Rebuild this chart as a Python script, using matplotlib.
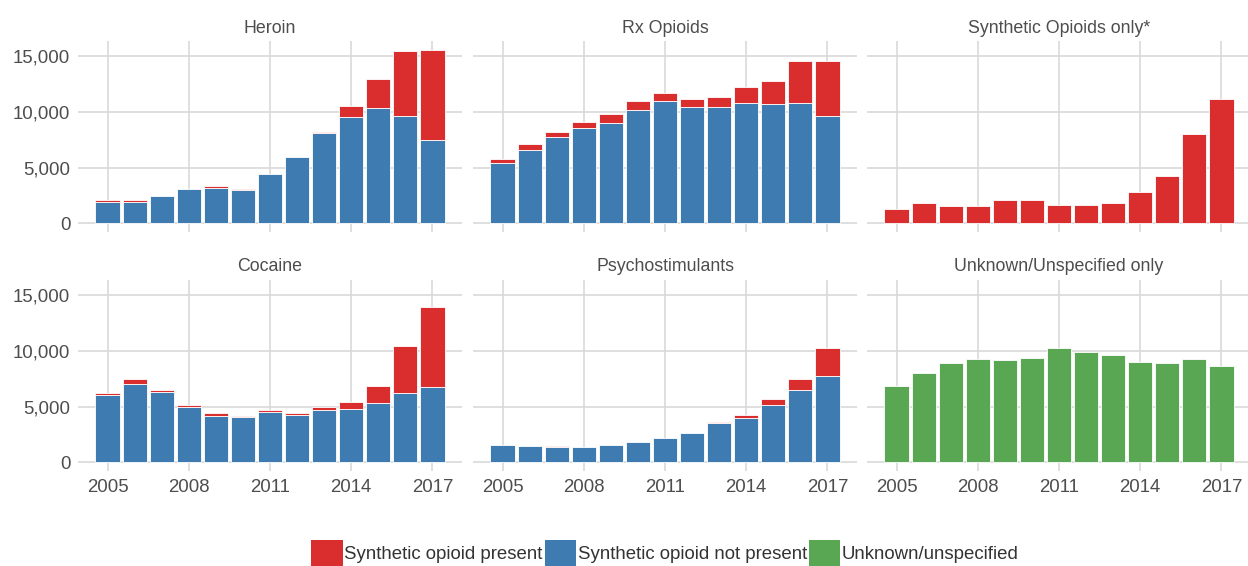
import matplotlib
matplotlib.use("Agg")
import matplotlib.pyplot as plt
from matplotlib.patches import Patch
import numpy as np

plt.rcParams['font.family'] = ['Liberation Sans', 'DejaVu Sans']

years = list(range(2005, 2018))
x_ticks = [2005, 2008, 2011, 2014, 2017]
y_ticks = [0, 5000, 10000, 15000]
y_ticklabels = ["0", "5,000", "10,000", "15,000"]

titles = ["Heroin", "Rx Opioids", "Synthetic Opioids only*",
          "Cocaine", "Psychostimulants", "Unknown/Unspecified only"]

heroin_not_present = [1920, 1920, 2460, 3080, 3200, 2960, 4400, 5960, 8080, 9520, 10300, 9640, 7490]
heroin_present = [160, 160, 0, 0, 190, 130, 0, 0, 130, 1020, 2660, 5780, 8080]

rx_not_present = [5420, 6560, 7700, 8590, 8980, 10150, 10930, 10420, 10420, 10810, 10690, 10810, 9640]
rx_present = [360, 510, 500, 540, 780, 780, 780, 750, 900, 1410, 2060, 3710, 4880]

synthetic_only = [1290, 1830, 1560, 1560, 2070, 2070, 1680, 1680, 1830, 2810, 4280, 7990, 11170]

cocaine_not_present = [6070, 6990, 6340, 4930, 4150, 4030, 4540, 4270, 4660, 4780, 5290, 6190, 6720]
cocaine_present = [130, 510, 120, 240, 240, 130, 130, 130, 270, 660, 1550, 4270, 7170]

psycho_not_present = [1580, 1460, 1340, 1340, 1580, 1850, 2210, 2600, 3530, 4000, 5170, 6450, 7740]
psycho_present = [0, 0, 130, 0, 0, 0, 0, 0, 130, 270, 510, 1050, 2540]

unknown_only = [6840, 7980, 8870, 9260, 9140, 9380, 10280, 9920, 9650, 9020, 8870, 9260, 8640]

legend_labels = ["Synthetic opioid present", "Synthetic opioid not present", "Unknown/unspecified"]

RED = "#DA2E2E"
BLUE = "#3D7BB0"
GREEN = "#59A752"
GRID = "#D9D9D9"
TXT = "#4D4D4D"

W, H = 1248, 566
fig = plt.figure(figsize=(W / 100, H / 100), dpi=100)


def ax_at(l, t, r, b):
    return fig.add_axes([l / W, 1 - b / H, (r - l) / W, (b - t) / H])


cols = [(78, 462), (473, 857), (867, 1251)]
rows = [(41, 232), (280, 471)]
title_base = [33, 271]

panels = [
    [(heroin_not_present, None, BLUE), (heroin_present, heroin_not_present, RED)],
    [(rx_not_present, None, BLUE), (rx_present, rx_not_present, RED)],
    [(synthetic_only, None, RED)],
    [(cocaine_not_present, None, BLUE), (cocaine_present, cocaine_not_present, RED)],
    [(psycho_not_present, None, BLUE), (psycho_present, psycho_not_present, RED)],
    [(unknown_only, None, GREEN)],
]

totals = []
for layers in panels:
    tot = np.zeros(len(years))
    for vals, _, _ in layers:
        tot += np.array(vals)
    totals.append(tot.max())
ymax = max(totals)
ylo, yhi = -0.05 * ymax, ymax * 1.05
xr = (years[-1] + 0.45) - (years[0] - 0.45)
xlo, xhi = years[0] - 0.45 - 0.05 * xr, years[-1] + 0.45 + 0.05 * xr

for i, layers in enumerate(panels):
    r, c = divmod(i, 3)
    l, rr = cols[c]
    t, b = rows[r]
    ax = ax_at(l, t, rr, b)
    for vals, bottoms, color in layers:
        v = np.array(vals, dtype=float)
        bt = np.zeros(len(v)) if bottoms is None else np.array(bottoms, dtype=float)
        mask = v > 0
        ax.bar(np.array(years)[mask], v[mask], bottom=bt[mask], width=0.9,
               color=color, edgecolor="white", linewidth=0.6, zorder=2)
    ax.set_xlim(xlo, xhi)
    ax.set_ylim(ylo, yhi)
    ax.set_xticks(x_ticks)
    ax.set_yticks(y_ticks)
    ax.grid(True, color=GRID, linewidth=1.2, zorder=0)
    ax.set_axisbelow(True)
    for s in ax.spines.values():
        s.set_visible(False)
    ax.tick_params(length=0, labelsize=13.4, colors=TXT)
    ax.tick_params(axis='y', pad=5.5)
    ax.tick_params(axis='x', pad=6)
    if c == 0:
        ax.set_yticklabels(y_ticklabels)
    else:
        ax.set_yticklabels([])
    if r == 1:
        ax.set_xticklabels([str(x) for x in x_ticks])
    else:
        ax.set_xticklabels([])
    fig.text((l + rr) / 2 / W, 1 - title_base[r] / H, titles[i], ha="center",
             va="baseline", fontsize=12.8, color=TXT)

handles = [Patch(facecolor=RED, edgecolor="none"),
           Patch(facecolor=BLUE, edgecolor="none"),
           Patch(facecolor=GREEN, edgecolor="none")]
leg = fig.legend(handles, legend_labels, loc="center",
                 bbox_to_anchor=(665 / W, 1 - 553 / H), ncol=3, frameon=False,
                 handlelength=1.67, handleheight=1.75, handletextpad=0.1,
                 columnspacing=0.1, fontsize=13.4, borderpad=0)
for txt in leg.get_texts():
    txt.set_color("#333333")

fig.savefig("out.png", dpi=100)
